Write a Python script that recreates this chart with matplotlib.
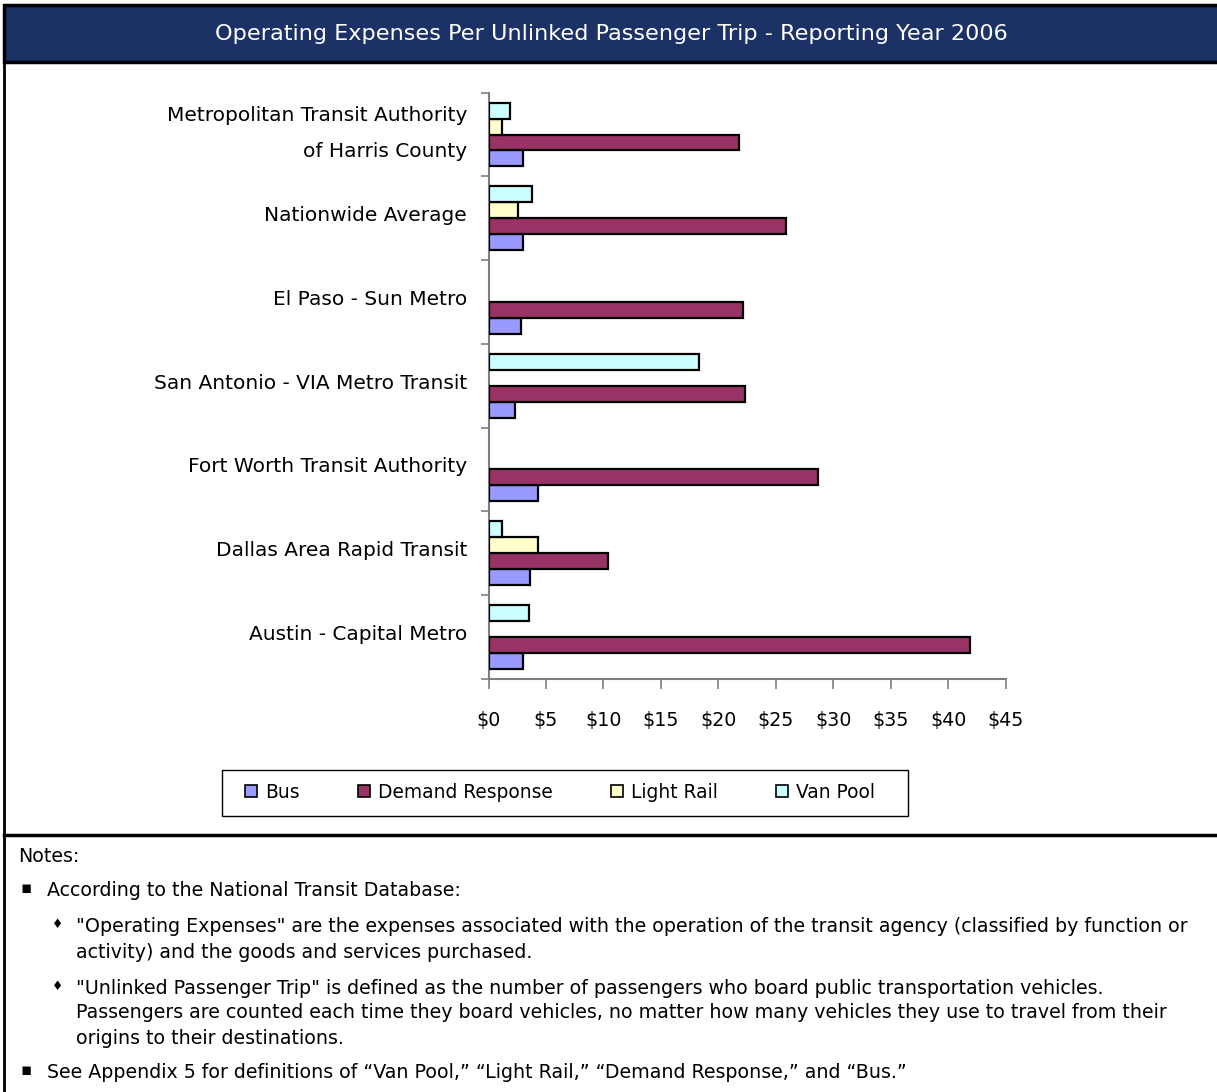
import matplotlib
matplotlib.use('Agg')
import matplotlib.pyplot as plt
import matplotlib.transforms as mtransforms
from matplotlib.patches import Rectangle, Patch
from matplotlib.lines import Line2D
import numpy as np

# ---------------- data ----------------
categories = ["Metropolitan Transit Authority\nof Harris County",
              "Nationwide Average",
              "El Paso - Sun Metro",
              "San Antonio - VIA Metro Transit",
              "Fort Worth Transit Authority",
              "Dallas Area Rapid Transit",
              "Austin - Capital Metro"]
bus = [3.0, 3.0, 2.8, 2.3, 4.3, 3.6, 3.0]
demand_response = [21.8, 25.9, 22.1, 22.3, 28.7, 10.4, 41.9]
light_rail = [1.2, 2.6, np.nan, np.nan, np.nan, 4.3, np.nan]
van_pool = [1.9, 3.8, np.nan, 18.3, np.nan, 1.2, 3.5]
series_names = ["Bus", "Demand Response", "Light Rail", "Van Pool"]
x_ticks = [0, 5, 10, 15, 20, 25, 30, 35, 40, 45]
x_tick_labels = ["$" + str(v) for v in x_ticks]
title = "Operating Expenses Per Unlinked Passenger Trip - Reporting Year 2006"

colors = ["#9999FF", "#993366", "#FFFFCC", "#CCFFFF"]

W, H = 1217, 1092
plt.rcParams['font.family'] = ['DejaVu Sans']
fig = plt.figure(figsize=(W / 100, H / 100), dpi=100)


def fx(x):
    return x / W


def fy(y):
    return 1 - y / H


# ---------------- frame / title bar ----------------
fig.patches.append(Rectangle((fx(4), fy(62)), fx(W + 10) - fx(4), fy(5) - fy(62),
                             transform=fig.transFigure, facecolor="#1c3166",
                             edgecolor="black", linewidth=2.5, zorder=1))
fig.text(fx(611), fy(34), title, color="white", fontsize=16.1,
         ha="center", va="center", zorder=2)
fig.lines.append(Line2D([fx(4), fx(4)], [fy(5), fy(H + 5)], transform=fig.transFigure,
                        color="black", linewidth=2))
fig.lines.append(Line2D([fx(4), fx(W + 5)], [fy(835), fy(835)], transform=fig.transFigure,
                        color="black", linewidth=2.5))

# ---------------- axes ----------------
x0, x1 = 488.5, 1005.7
ytop, ybot = 92.7, 678.7
ax = fig.add_axes([fx(x0), fy(ybot), fx(x1) - fx(x0), fy(ytop) - fy(ybot)])
n = len(categories)
ypos = np.arange(n)
h = 0.19
offsets = [0.285, 0.095, -0.095, -0.285]
for vals, off, col, name in zip([bus, demand_response, light_rail, van_pool],
                                offsets, colors, series_names):
    ax.barh(ypos + off, vals, height=h, color=col, edgecolor="black",
            linewidth=1.6, label=name, zorder=3)

ax.set_xlim(0, 45)
ax.set_ylim(n - 0.5, -0.5)
ax.set_xticks(x_ticks)
ax.set_xticklabels(x_tick_labels, fontsize=13.7)
ax.tick_params(axis="x", length=7, width=1.2, color="#7f7f7f", pad=16, direction="out")
ax.set_yticks(ypos)
ax.set_yticklabels(categories, fontsize=14.5, linespacing=2.12, ha="right")
ax.tick_params(axis="y", which="major", length=0, pad=15.5)
ax.set_yticks(np.arange(n + 1) - 0.5, minor=True)
ax.tick_params(axis="y", which="minor", length=6, width=1.2, color="#7f7f7f", direction="out")
for lab in ax.get_yticklabels():
    up = 4.5 + (7 if "\n" in lab.get_text() else 0)
    shift = mtransforms.ScaledTranslation(0, up / 100, fig.dpi_scale_trans)
    lab.set_transform(lab.get_transform() + shift)
for s in ["top", "right"]:
    ax.spines[s].set_visible(False)
for s in ["left", "bottom"]:
    ax.spines[s].set_color("#7f7f7f")
    ax.spines[s].set_linewidth(1.5)
ax.set_facecolor("none")

# ---------------- legend ----------------
fig.patches.append(Rectangle((fx(222), fy(816)), fx(908) - fx(222), fy(770) - fy(816),
                             transform=fig.transFigure, facecolor="white",
                             edgecolor="black", linewidth=1.0, zorder=1))
handles = [Patch(facecolor=c, edgecolor="black", linewidth=1.2) for c in colors]
leg = fig.legend(handles, series_names, loc="center",
                 bbox_to_anchor=(fx(560), fy(792)), ncol=4, fontsize=13.4,
                 frameon=False,
                 handlelength=0.65, handleheight=0.65, handletextpad=0.45,
                 columnspacing=3.1, borderpad=0.0, borderaxespad=0)
leg.set_zorder(3)

# ---------------- notes ----------------
fs = 13.65
fig.text(fx(18), fy(856), "Notes:", fontsize=fs, va="center", ha="left")
fig.text(fx(21), fy(888), "\u25AA", fontsize=12, va="center", ha="left")
fig.text(fx(47), fy(890), "According to the National Transit Database:", fontsize=fs,
         va="center", ha="left")
fig.text(fx(52), fy(925), "\u2666", fontsize=9, va="center", ha="left")
fig.text(fx(76), fy(927),
         "\"Operating Expenses\" are the expenses associated with the operation of the transit agency (classified by function or",
         fontsize=fs, va="center", ha="left")
fig.text(fx(76), fy(952), "activity) and the goods and services purchased.",
         fontsize=fs, va="center", ha="left")
fig.text(fx(52), fy(987), "\u2666", fontsize=9, va="center", ha="left")
fig.text(fx(76), fy(989),
         "\"Unlinked Passenger Trip\" is defined as the number of passengers who board public transportation vehicles.",
         fontsize=fs, va="center", ha="left")
fig.text(fx(76), fy(1013),
         "Passengers are counted each time they board vehicles, no matter how many vehicles they use to travel from their",
         fontsize=fs, va="center", ha="left")
fig.text(fx(76), fy(1038), "origins to their destinations.",
         fontsize=fs, va="center", ha="left")
fig.text(fx(21), fy(1070), "\u25AA", fontsize=12, va="center", ha="left")
fig.text(fx(47), fy(1072),
         "See Appendix 5 for definitions of \u201cVan Pool,\u201d \u201cLight Rail,\u201d \u201cDemand Response,\u201d and \u201cBus.\u201d",
         fontsize=fs, va="center", ha="left")

fig.savefig("out.png", dpi=100, facecolor="white")
